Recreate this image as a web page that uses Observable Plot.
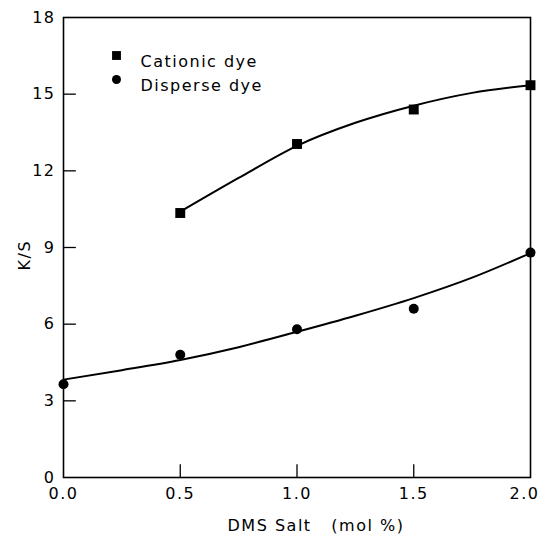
<!DOCTYPE html>
<html><head><meta charset="utf-8">
<script src="https://cdn.jsdelivr.net/npm/d3@7"></script>
<script src="https://cdn.jsdelivr.net/npm/@observablehq/plot@0.6"></script>
<style>body{margin:0;background:#fff}</style>
</head><body><div id="chart"></div>
<script>
// Measured points
const cationicSalt = [0.5, 1.0, 1.5, 2.0];
const cationicKS   = [10.35, 13.05, 14.4, 15.35];
const disperseSalt = [0.0, 0.5, 1.0, 1.5, 2.0];
const disperseKS   = [3.65, 4.8, 5.8, 6.6, 8.8];
// Fitted curves
const cationicFitSalt = [0.5, 0.75, 1.0, 1.25, 1.5, 1.75, 2.0];
const cationicFitKS   = [10.4, 11.72, 12.98, 13.88, 14.55, 15.05, 15.35];
const disperseFitSalt = [0.0, 0.25, 0.5, 0.75, 1.0, 1.25, 1.5, 1.75, 2.0];
const disperseFitKS   = [3.83, 4.2, 4.6, 5.1, 5.7, 6.33, 7.02, 7.82, 8.78];
// Ticks
const xTicks = [0.0, 0.5, 1.0, 1.5, 2.0];
const yTicks = [0, 3, 6, 9, 12, 15, 18];
const legendLabels = ["Cationic dye", "Disperse dye"];
const xTitle = "DMS Salt   (mol %)";
const yTitle = "K/S";

const zip = (xs, ys) => xs.map((x, i) => ({x, y: ys[i]}));
const cat = zip(cationicSalt, cationicKS);
const dis = zip(disperseSalt, disperseKS);
const catFit = zip(cationicFitSalt, cationicFitKS);
const disFit = zip(disperseFitSalt, disperseFitKS);

const tickLenX = 0.5;   // in K/S units
const tickLenY = 0.055; // in salt units
const fmt = d3.format(".1f");

const chart = Plot.plot({
  width: 539, height: 539,
  marginLeft: 63, marginRight: 9, marginTop: 17, marginBottom: 62,
  style: {fontFamily: "DejaVu Sans", fontSize: "16px", color: "#000", background: "#fff", letterSpacing: "1px"},
  x: {domain: [0, 2]},
  y: {domain: [0, 18]},
  marks: [
    Plot.frame({stroke: "#000", strokeWidth: 1.6}),
    Plot.axisX({ticks: xTicks.slice(0, -1), tickFormat: fmt, tickSize: 0, tickPadding: 10, label: null, fontSize: 16}),
    Plot.axisX({ticks: xTicks.slice(-1), tickFormat: fmt, tickSize: 0, tickPadding: 10, label: null, fontSize: 16, textAnchor: "end", dx: 9}),
    Plot.axisY({ticks: yTicks, tickSize: 0, tickPadding: 8, label: null, fontSize: 16}),
    Plot.ruleX(xTicks.slice(1, -1), {x: d => d, y1: 0, y2: tickLenX, stroke: "#000", strokeWidth: 1.3}),
    Plot.ruleY(yTicks.slice(1, -1), {y: d => d, x1: 0, x2: tickLenY, stroke: "#000", strokeWidth: 1.3}),
    Plot.line(catFit, {x: "x", y: "y", curve: "monotone-x", stroke: "#000", strokeWidth: 2}),
    Plot.line(disFit, {x: "x", y: "y", curve: "monotone-x", stroke: "#000", strokeWidth: 2}),
    Plot.dot(cat, {x: "x", y: "y", symbol: "square", r: 5.6, fill: "#000", stroke: "none"}),
    Plot.dot(dis, {x: "x", y: "y", symbol: "circle", r: 5, fill: "#000", stroke: "none"}),
    // legend
    Plot.dot([legendLabels[0]], {frameAnchor: "top-left", dx: 53, dy: 38, symbol: "square", r: 5, fill: "#000", stroke: "none"}),
    Plot.dot([legendLabels[1]], {frameAnchor: "top-left", dx: 53, dy: 62, symbol: "circle", r: 4.5, fill: "#000", stroke: "none"}),
    Plot.text([legendLabels[0]], {text: d => d, frameAnchor: "top-left", dx: 77, dy: 38, textAnchor: "start", fontSize: 16, style: "letter-spacing:2px"}),
    Plot.text([legendLabels[1]], {text: d => d, frameAnchor: "top-left", dx: 77, dy: 62, textAnchor: "start", fontSize: 16}),
    // axis titles
    Plot.text([xTitle], {text: d => d, frameAnchor: "bottom", dx: 19, dy: 53, fontSize: 16}),
    Plot.text([yTitle], {text: d => d, frameAnchor: "left", dx: -39, dy: 23, rotate: -90, fontSize: 16})
  ]
});
// preserve wide spaces in the x title and spread letters like the reference
chart.querySelectorAll("text").forEach(t => { t.style.whiteSpace = "pre"; });
chart.style.letterSpacing = "1.5px";
document.getElementById("chart").appendChild(chart);
</script>
</body></html>
